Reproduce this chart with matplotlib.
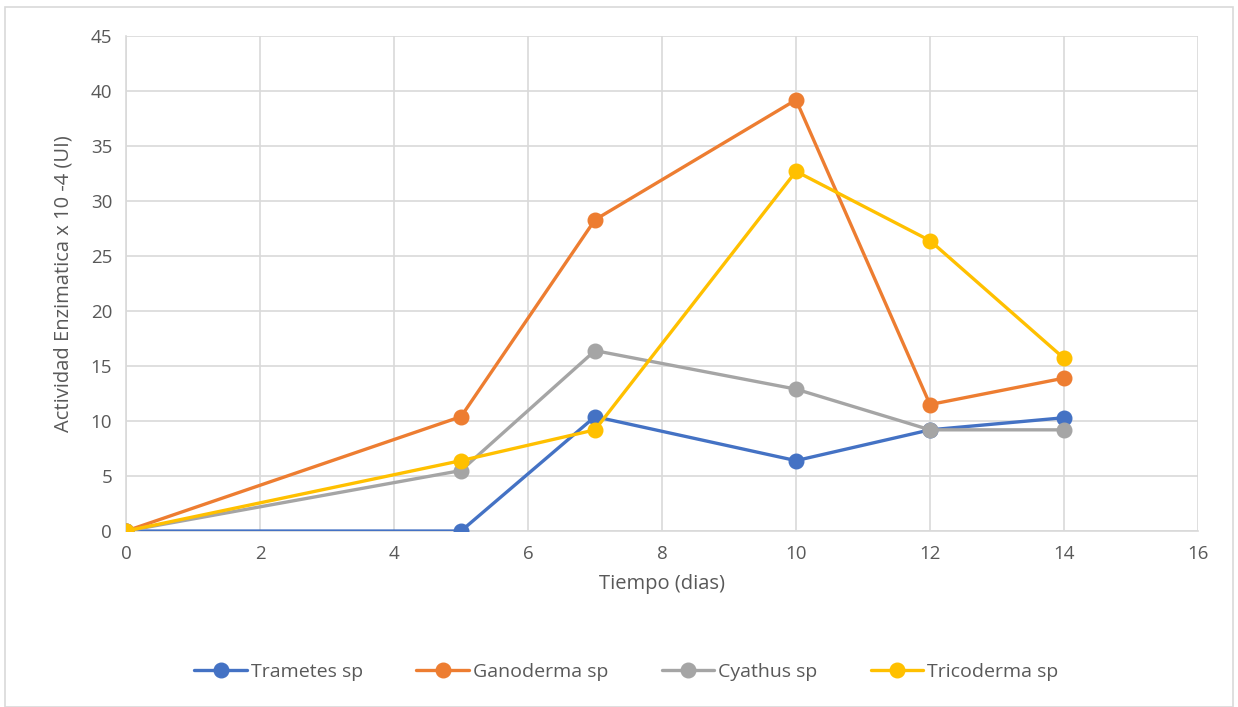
import matplotlib.pyplot as plt
from matplotlib.patches import Rectangle

# ------------------------------------------------------------
# Data
# ------------------------------------------------------------
dias = [0, 5, 7, 10, 12, 14]
trametes = [0, 0, 10.4, 6.4, 9.2, 10.3]
ganoderma = [0, 10.4, 28.3, 39.2, 11.5, 13.9]
cyathus = [0, 5.5, 16.4, 12.9, 9.2, 9.2]
tricoderma = [0, 6.4, 9.2, 32.7, 26.4, 15.7]

series_names = ['Trametes sp', 'Ganoderma sp', 'Cyathus sp', 'Tricoderma sp']
series_colors = ['#4472C4', '#ED7D31', '#A5A5A5', '#FFC000']

TEXT = '#595959'
GRID = '#D9D9D9'

plt.rcParams['font.family'] = ['Open Sans', 'DejaVu Sans']

fig = plt.figure(figsize=(12.38, 7.07), dpi=100)
ax = fig.add_axes([0.1018, 0.2489, 0.8659, 0.7001])

# outer chart border
fig.patches.append(Rectangle((5 / 1238, 0.0), 1 - 10 / 1238, 1 - 7 / 707,
                             transform=fig.transFigure, fill=False,
                             edgecolor=GRID, linewidth=1.2))

for values, name, color in zip([trametes, ganoderma, cyathus, tricoderma],
                               series_names, series_colors):
    ax.plot(dias, values, color=color, linewidth=2.4, marker='o',
            markersize=10.5, label=name, solid_capstyle='round', zorder=3)

ax.set_xlim(0, 16)
ax.set_ylim(0, 45)
ax.set_xticks(range(0, 17, 2))
ax.set_yticks(range(0, 46, 5))
ax.grid(True, color=GRID, linewidth=1.2)
ax.set_axisbelow(True)

for side in ['top', 'right']:
    ax.spines[side].set_visible(False)
ax.spines['left'].set_color(GRID)
ax.spines['bottom'].set_color(GRID)
ax.spines['left'].set_linewidth(1.2)
ax.spines['bottom'].set_linewidth(1.2)

ax.tick_params(axis='both', length=0, labelsize=13.5, colors=TEXT, pad=10)
for lab in ax.get_xticklabels() + ax.get_yticklabels():
    lab.set_clip_on(False)

ax.set_xlabel('Tiempo (dias)', fontsize=14.5, color=TEXT, labelpad=8)
ax.set_ylabel('Actividad Enzimatica x 10 -4 (UI)', fontsize=14.5, color=TEXT,
              labelpad=12)

fig.legend(loc='center', bbox_to_anchor=(0.506, 0.05), ncol=4, frameon=False,
           fontsize=14, labelcolor=TEXT, handlelength=2.7, handletextpad=0.2,
           columnspacing=2.75)

fig.savefig('out.png', dpi=100)
